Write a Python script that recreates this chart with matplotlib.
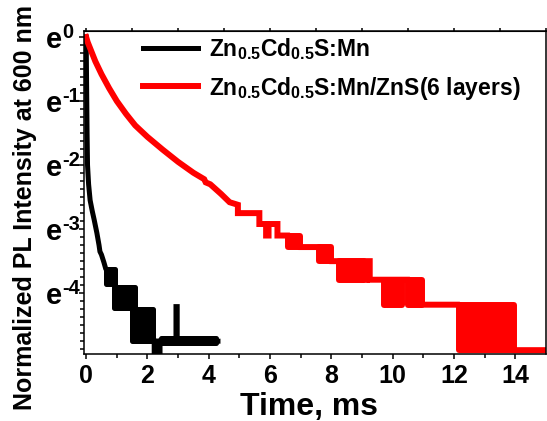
import numpy as np
import matplotlib
matplotlib.use("Agg")
import matplotlib.pyplot as plt
from matplotlib.ticker import FixedLocator, NullFormatter
from matplotlib.lines import Line2D
from matplotlib.transforms import blended_transform_factory, offset_copy

plt.rcParams['font.family'] = ['Liberation Sans', 'DejaVu Sans']
plt.rcParams['font.weight'] = 'bold'
plt.rcParams['mathtext.fontset'] = 'custom'
plt.rcParams['mathtext.rm'] = 'Liberation Sans:bold'
plt.rcParams['mathtext.bf'] = 'Liberation Sans:bold'
plt.rcParams['mathtext.it'] = 'Liberation Sans:bold'

# values: time in ms, ln(normalized intensity)
t_black = [0, 0.01, 0.02, 0.03, 0.045, 0.08, 0.13, 0.2, 0.26, 0.35, 0.42, 0.45,
           0.5, 0.58, 0.64, 0.95, 0.95, 1.55, 1.55, 2.17, 2.22, 2.22, 2.26, 2.26,
           2.37, 2.37, 2.41, 2.41, 2.93, 2.93, 2.97, 2.97, 4.3]
ln_black = [0, -0.5, -1.0, -1.5, -2.0, -2.3, -2.55, -2.72, -2.85, -3.06, -3.25, -3.35,
            -3.40, -3.52, -3.62, -3.86, -3.91, -4.23, -4.25, -4.75, -4.75, -5.4, -5.4, -4.75,
            -4.75, -5.4, -5.4, -4.75, -4.75, -4.21, -4.21, -4.75, -4.75]

# noisy stretches where the trace flips between two levels
band_black_t0 = [0.64, 0.92, 1.50, 2.45]
band_black_t1 = [0.95, 1.58, 2.17, 4.25]
band_black_lo = [-3.86, -4.23, -4.75, -4.78]
band_black_hi = [-3.62, -3.91, -4.25, -4.70]

t_red = [0, 0.05, 0.15, 0.3, 0.5, 0.75, 1.0, 1.3, 1.6, 2.0, 2.5, 3.0, 3.5, 3.85,
         3.9, 4.05, 4.4, 4.68, 4.95, 4.95, 5.65, 5.65, 5.87, 5.87, 5.95, 5.95,
         6.24, 6.24, 6.6, 6.97, 7.6, 7.98, 8.25, 9.06, 9.15, 9.15, 9.25, 9.25,
         9.7, 10.3, 10.5, 10.95, 12.15, 13.95, 15.0]
ln_red = [0, -0.08, -0.2, -0.38, -0.58, -0.8, -1.0, -1.2, -1.38, -1.56, -1.76, -1.95, -2.12, -2.22,
          -2.27, -2.30, -2.45, -2.58, -2.62, -2.75, -2.75, -2.92, -2.92, -3.10, -3.10, -2.92,
          -2.92, -3.10, -3.10, -3.28, -3.28, -3.50, -3.50, -3.79, -3.79, -3.50, -3.50, -3.79,
          -3.79, -3.79, -3.79, -4.18, -4.18, -4.89, -4.89]

band_red_t0 = [6.6, 7.6, 8.25, 9.7, 9.82, 10.5, 12.15]
band_red_t1 = [6.97, 7.98, 9.06, 9.78, 10.3, 10.95, 13.95]
band_red_lo = [-3.28, -3.50, -3.79, -4.18, -4.18, -4.18, -4.89]
band_red_hi = [-3.10, -3.28, -3.50, -3.79, -3.79, -3.79, -4.18]

labels = [r'Zn$_{\mathbf{0.5}}$Cd$_{\mathbf{0.5}}$S:Mn',
          r'Zn$_{\mathbf{0.5}}$Cd$_{\mathbf{0.5}}$S:Mn/ZnS(6 layers)']
colors = ['black', 'red']
widths = [3.6, 4.3]

fig = plt.figure(figsize=(5.47, 4.21), dpi=100)
ax = fig.add_axes([84 / 547, 1 - 354 / 421, 462 / 547, 323 / 421])
ax.set_yscale('log', base=np.e)

series = [(t_black, ln_black, band_black_t0, band_black_t1, band_black_lo, band_black_hi),
          (t_red, ln_red, band_red_t0, band_red_t1, band_red_lo, band_red_hi)]
for (t, ln, b0, b1, blo, bhi), c, lw in zip(series, colors, widths):
    ax.plot(t, np.exp(ln), color=c, lw=lw, solid_joinstyle='miter')
    for a0, a1, lo, hi in zip(b0, b1, blo, bhi):
        ax.fill_between([a0, a1], np.exp(lo), np.exp(hi), facecolor=c,
                        edgecolor=c, linewidth=lw)

ax.set_xlim(-0.07, 15)
ax.set_ylim(np.exp(-4.95), np.exp(0.094))

ax.set_xticks(np.arange(0, 15, 2))
ax.set_xticks(np.arange(1, 15, 2), minor=True)
ax.set_xticklabels([str(v) for v in range(0, 15, 2)])

majors = np.arange(-4, 1)
ax.yaxis.set_major_locator(FixedLocator(np.exp(majors)))
ax.set_yticklabels([])
minors = [m for m in np.arange(-4.875, 0.1, 0.125) if abs(m - round(m)) > 1e-6]
ax.yaxis.set_minor_locator(FixedLocator(np.exp(minors)))
ax.yaxis.set_minor_formatter(NullFormatter())

# "e" with a raised exponent, as in the original tick labels
base = blended_transform_factory(ax.transAxes, ax.transData)
tr_e = offset_copy(base, fig=fig, x=-38.5, y=-10.5, units='dots')
for m in majors:
    e_txt = ax.text(0, np.exp(m), 'e', transform=tr_e, ha='left', va='baseline',
                    fontsize=21, fontweight='bold', clip_on=False)
    ax.annotate(str(m), xy=(1, 0), xycoords=e_txt, xytext=(1, 15.5),
                textcoords='offset pixels', ha='left', va='baseline',
                fontsize=14.5, fontweight='bold', annotation_clip=False)

ax.tick_params(axis='both', which='major', direction='out', length=3.6, width=1.1)
ax.tick_params(axis='both', which='minor', direction='out', length=2.6, width=1.1)
ax.tick_params(axis='x', labelsize=18, pad=3.5)
for s in ax.spines.values():
    s.set_linewidth(1.1)

top = ax.secondary_xaxis('top')
top.set_xticks(np.arange(0, 15.1, 1.5))
top.tick_params(direction='out', length=2.2, width=1.1, labeltop=False)

ax.set_xlabel('Time, ms', fontsize=23, fontweight='bold')
ax.xaxis.set_label_coords(0.487, -0.117)
ax.set_ylabel('Normalized PL Intensity at 600 nm', fontsize=18, fontweight='bold')
ax.yaxis.set_label_coords(-0.102, 0.455)

handles = [Line2D([], [], color=c, lw=w) for c, w in zip(colors, widths)]
ax.legend(handles, labels, loc='upper left', bbox_to_anchor=(143 / 547, 1 - 36 / 421),
          bbox_transform=fig.transFigure, frameon=False, fontsize=16.5,
          handlelength=2.4, handletextpad=0.5, labelspacing=0.55,
          borderpad=0, borderaxespad=0)

fig.savefig('out.png', dpi=100)
